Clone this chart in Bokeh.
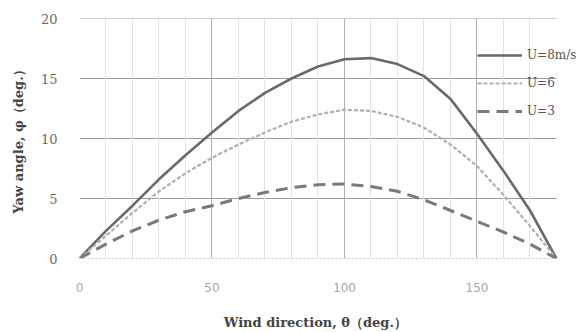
from bokeh.plotting import figure
from bokeh.models import FixedTicker, Legend, LegendItem, Range1d
from bokeh.embed import file_html
from bokeh.resources import INLINE

theta = [0, 10, 20, 30, 40, 50, 60, 70, 80, 90, 100, 110, 120, 130, 140, 150, 160, 170, 180]
u8 = [0, 2.3, 4.4, 6.6, 8.6, 10.5, 12.3, 13.8, 15.0, 16.0, 16.6, 16.7, 16.2, 15.2, 13.3, 10.4, 7.3, 4.0, 0]
u6 = [0, 1.9, 3.8, 5.6, 7.1, 8.4, 9.5, 10.5, 11.4, 12.0, 12.4, 12.3, 11.8, 10.9, 9.5, 7.7, 5.3, 2.7, 0]
u3 = [0, 1.2, 2.3, 3.2, 3.9, 4.4, 5.0, 5.5, 5.9, 6.15, 6.2, 6.0, 5.6, 4.9, 4.0, 3.1, 2.2, 1.2, 0]
x_ticks = [0, 50, 100, 150]
x_minor = [10, 20, 30, 40, 60, 70, 80, 90, 110, 120, 130, 140, 160, 170]
y_ticks = [0, 5, 10, 15, 20]
labels = ["U=8m/s", "U=6", "U=3"]

SERIF = "DejaVu Serif"
X_MIN, X_MAX = theta[0], theta[-1]
# frame extends past 180 so that the legend text (which overflows the grid area) is not clipped
X_VIEW_END = 191.7

p = figure(width=587, height=332, output_backend="svg", toolbar_location=None,
           x_range=Range1d(X_MIN, X_VIEW_END), y_range=Range1d(y_ticks[0], y_ticks[-1]),
           min_border_left=79, min_border_right=0, min_border_top=18, min_border_bottom=73)
p.outline_line_color = None
p.background_fill_color = "white"

p.xaxis.ticker = FixedTicker(ticks=x_ticks, minor_ticks=x_minor)
p.yaxis.ticker = FixedTicker(ticks=y_ticks)

p.xgrid.grid_line_color = "#b0b0b0"
p.xgrid.minor_grid_line_color = "#e4e4e4"
p.ygrid.grid_line_color = None

# horizontal grid lines restricted to the data domain 0..180
hy = y_ticks[1:]
p.segment(x0=[X_MIN] * len(hy), y0=hy, x1=[X_MAX] * len(hy), y1=hy,
          line_color="#9a9a9a", line_width=1, level="underlay")

for ax in (p.xaxis[0], p.yaxis[0]):
    ax.major_tick_line_color = None
    ax.minor_tick_line_color = None
p.xaxis.bounds = (X_MIN, X_MAX)
p.xaxis.axis_line_color = "#c8c8c8"
p.xaxis.axis_line_dash = "2 2"
p.yaxis.axis_line_color = None

p.xaxis.major_label_text_font = "DejaVu Sans"
p.xaxis.major_label_text_color = "#a8a8a8"
p.xaxis.major_label_text_font_size = "12px"
p.xaxis.major_label_standoff = 18
p.yaxis.major_label_text_font = SERIF
p.yaxis.major_label_text_color = "#6a6a6a"
p.yaxis.major_label_text_font_size = "13px"
p.yaxis.major_label_standoff = 16

# trailing no-break spaces keep the label centred under the 0..180 grid area
p.xaxis.axis_label = "Wind direction, \u03b8\uff08deg.\uff09" + "\u00a0" * 8
p.yaxis.axis_label = "Yaw angle, \u03c6\uff08deg.\uff09"
for ax in (p.xaxis[0], p.yaxis[0]):
    ax.axis_label_text_font = SERIF
    ax.axis_label_text_font_style = "bold"
    ax.axis_label_text_font_size = "13px"
    ax.axis_label_text_color = "#444444"
p.xaxis.axis_label_standoff = 20
p.yaxis.axis_label_standoff = 12

r8 = p.line(theta, u8, line_color="#6a6a6a", line_width=2.6)
r6 = p.line(theta, u6, line_color="#b0b0b0", line_width=2.2, line_dash="4 2")
r3 = p.line(theta, u3, line_color="#7a7a7a", line_width=3, line_dash="12 7")

legend = Legend(items=[LegendItem(label=labels[0], renderers=[r8]),
                       LegendItem(label=labels[1], renderers=[r6]),
                       LegendItem(label=labels[2], renderers=[r3])],
                location=(398, 137), orientation="vertical",
                glyph_width=45, glyph_height=20, label_height=20, spacing=8,
                padding=0, margin=0, label_standoff=5,
                border_line_alpha=0, background_fill_alpha=0,
                label_text_font=SERIF, label_text_font_size="12px", label_text_color="#555555")
p.add_layout(legend, "center")

open("out.html", "w").write(file_html(p, INLINE))
